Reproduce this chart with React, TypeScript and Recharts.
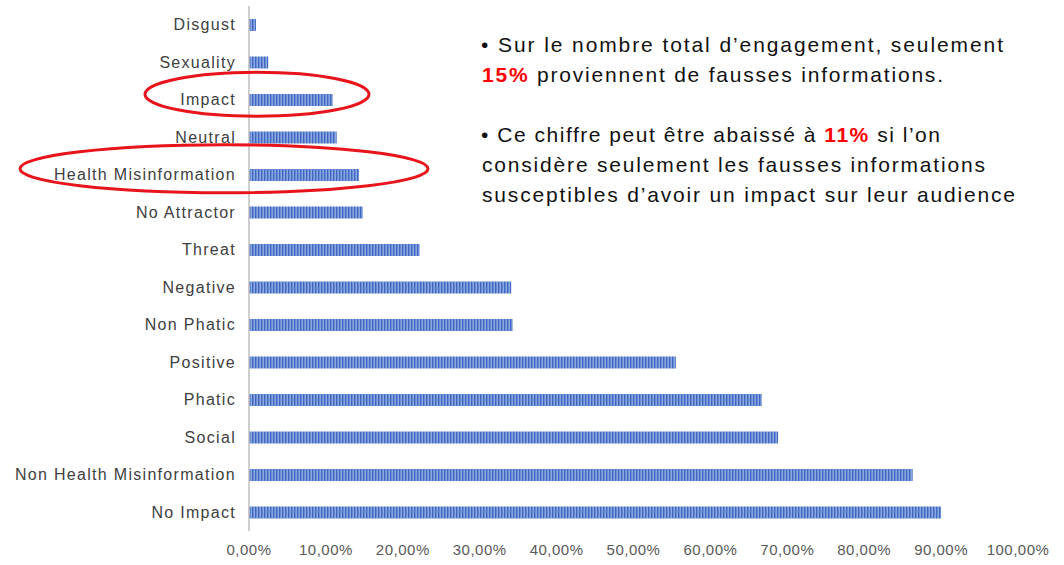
import React from "react";
import { BarChart, Bar, XAxis, YAxis } from "recharts";

const categories = [
  "Disgust",
  "Sexuality",
  "Impact",
  "Neutral",
  "Health Misinformation",
  "No Attractor",
  "Threat",
  "Negative",
  "Non Phatic",
  "Positive",
  "Phatic",
  "Social",
  "Non Health Misinformation",
  "No Impact",
];
const shares = [0.009, 0.025, 0.109, 0.114, 0.143, 0.148, 0.222, 0.341, 0.343, 0.555, 0.667, 0.688, 0.863, 0.9];
const xTicks = [0, 0.1, 0.2, 0.3, 0.4, 0.5, 0.6, 0.7, 0.8, 0.9, 1];
const highlighted: Record<string, { dx: number; dy: number; rx: number; ry: number }> = {
  Impact: { dx: 21, dy: -5.5, rx: 112, ry: 22 },
  "Health Misinformation": { dx: -12, dy: -6, rx: 204, ry: 24 },
};

const data = categories.map((c, i) => ({ name: c, value: shares[i] }));

const fmt = (v: number) => (v * 100).toFixed(2).replace(".", ",") + "%";

const YTick = (props: any) => {
  const { x, y, payload } = props;
  const h = highlighted[payload.value];
  return (
    <g>
      <text
        x={x}
        y={y}
        dy="0.35em"
        textAnchor="end"
        fontSize={16}
        letterSpacing={1.3}
        fill="#404040"
        fontFamily="'Liberation Sans', Arial, sans-serif"
      >
        {payload.value}
      </text>
      {h && (
        <ellipse
          cx={x + h.dx}
          cy={y + h.dy}
          rx={h.rx}
          ry={h.ry}
          fill="none"
          stroke="#e8141b"
          strokeWidth={3}
        />
      )}
    </g>
  );
};

const XTick = (props: any) => {
  const { x, y, payload } = props;
  return (
    <text
      x={x}
      y={y}
      dy="0.71em"
      textAnchor="middle"
      fontSize={15}
      letterSpacing={0.5}
      fill="#595959"
      fontFamily="'Liberation Sans', Arial, sans-serif"
    >
      {fmt(payload.value)}
    </text>
  );
};

const textStyle = {
  fontFamily: "'Liberation Sans', Arial, sans-serif",
  fontSize: 21,
  fill: "#111111",
};

export default function App() {
  return (
    <div style={{ position: "absolute", left: 0, top: 0, width: 1064, height: 565, background: "#fff" }}>
      <svg width={0} height={0} style={{ position: "absolute" }}>
        <defs>
          <pattern id="stripes" patternUnits="userSpaceOnUse" width={3} height={20}>
            <rect x={0} y={0} width={3} height={20} fill="#8aa6e0" />
            <rect x={0} y={0} width={1.4} height={20} fill="#3f68c0" />
          </pattern>
        </defs>
      </svg>
      <BarChart
        width={1064}
        height={565}
        data={data}
        layout="vertical"
        margin={{ top: 6, right: 46, bottom: 4, left: 0 }}
      >
        <XAxis
          type="number"
          domain={[0, 1]}
          ticks={xTicks}
          axisLine={false}
          tickLine={false}
          tickSize={0}
          tickMargin={13}
          height={30}
          tick={<XTick />}
          interval={0}
        />
        <Bar dataKey="value" fill="url(#stripes)" barSize={12} isAnimationActive={false} />
        <YAxis
          type="category"
          dataKey="name"
          width={249}
          axisLine={{ stroke: "#bfbfbf", strokeWidth: 1.5 }}
          tickLine={false}
          tickSize={0}
          tickMargin={13}
          tick={<YTick />}
          interval={0}
        />
      </BarChart>
      <svg width={1064} height={565} style={{ position: "absolute", left: 0, top: 0, pointerEvents: "none" }}>
        <text x={481} y={52} {...textStyle} textLength={522} lengthAdjust="spacing">
          • Sur le nombre total d’engagement, seulement
        </text>
        <text x={482} y={82} {...textStyle} textLength={461} lengthAdjust="spacing">
          <tspan fill="#ff0000" fontWeight="bold">15%</tspan> proviennent  de fausses informations.
        </text>
        <text x={481} y={142} {...textStyle} textLength={459} lengthAdjust="spacing">
          • Ce chiffre peut être abaissé à <tspan fill="#ff0000" fontWeight="bold">11%</tspan> si l’on
        </text>
        <text x={482} y={172} {...textStyle} textLength={503} lengthAdjust="spacing">
          considère seulement les fausses informations
        </text>
        <text x={482} y={202} {...textStyle} textLength={533} lengthAdjust="spacing">
          susceptibles d’avoir un impact sur leur audience
        </text>
      </svg>
    </div>
  );
}
